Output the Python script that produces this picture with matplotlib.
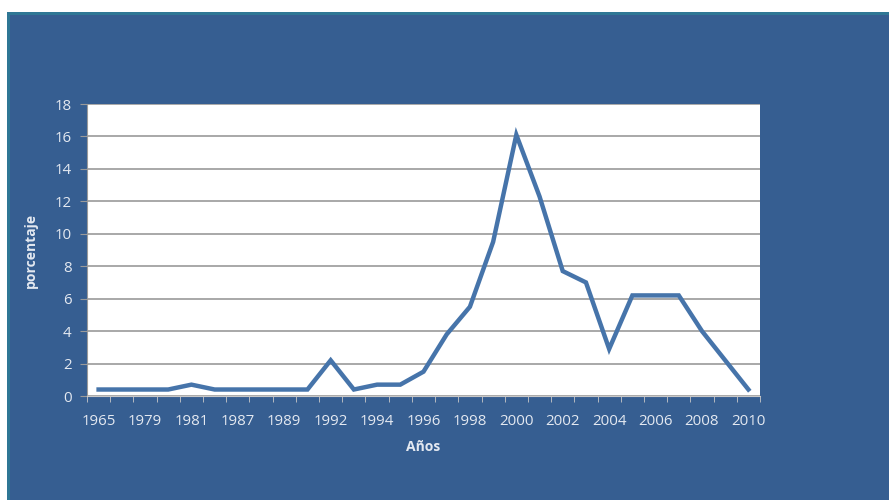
import matplotlib.pyplot as plt
from matplotlib.patches import Rectangle

# data (only every other year is labelled there)
years = ['1965', '1977', '1979', '1980', '1981', '1986', '1987', '1988', '1989', '1990',
         '1992', '1993', '1994', '1995', '1996', '1997', '1998', '1999', '2000', '2001',
         '2002', '2003', '2004', '2005', '2006', '2007', '2008', '2009', '2010']
porcentaje = [0.4, 0.4, 0.4, 0.4, 0.7, 0.4, 0.4, 0.4, 0.4, 0.4,
              2.2, 0.4, 0.7, 0.7, 1.5, 3.8, 5.5, 9.5, 16.1, 12.3,
              7.7, 7.0, 2.9, 6.2, 6.2, 6.2, 4.0, 2.2, 0.4]
y_ticks = list(range(0, 20, 2))

bg = '#365e91'
txt = '#e4e9f1'
plt.rcParams['font.family'] = ['Open Sans', 'DejaVu Sans']

fig = plt.figure(figsize=(8.89, 5), dpi=100, facecolor='white')
# blue slide background
fig.patches.append(Rectangle((7 / 889, 0), 1, 488 / 500, transform=fig.transFigure,
                             facecolor=bg, edgecolor='none', zorder=-2))
fig.patches.append(Rectangle((7 / 889, 485 / 500), 1, 3 / 500, transform=fig.transFigure,
                             facecolor='#2f7795', edgecolor='none', zorder=-1))
fig.patches.append(Rectangle((7 / 889, 0), 3 / 889, 488 / 500, transform=fig.transFigure,
                             facecolor='#2f7795', edgecolor='none', zorder=-1))

ax = fig.add_axes([87 / 889, 104 / 500, 673 / 889, 292 / 500])
ax.set_facecolor('white')
x = list(range(len(years)))
ax.plot(x, porcentaje, color='#4674aa', lw=3.2, solid_joinstyle='miter', zorder=3)

ax.set_xlim(-0.5, len(years) - 0.5)
ax.set_ylim(0, 18)
ax.set_yticks(y_ticks)
ax.grid(axis='y', color='#9a9a9a', lw=1.2)
ax.set_axisbelow(True)

ax.set_xticks(x[::2])
ax.set_xticklabels(years[::2])
ax.set_xticks([i - 0.5 for i in range(len(years) + 1)], minor=True)
ax.tick_params(axis='x', which='major', length=0, pad=13, labelsize=10.8, labelcolor=txt)
ax.tick_params(axis='x', which='minor', length=4, color='#c8c8c8', direction='out')
ax.tick_params(axis='y', length=5, color='#9a9a9a', labelsize=10.8, labelcolor=txt, pad=6)

for s in ['top', 'right']:
    ax.spines[s].set_visible(False)
ax.spines['left'].set_color('#9a9a9a')
ax.spines['bottom'].set_color('#c8c8c8')

ax.set_xlabel('Años', color=txt, fontsize=10, fontweight='bold', labelpad=8)
ax.set_ylabel('porcentaje', color=txt, fontsize=10, fontweight='bold', labelpad=12)

fig.savefig('out.png', dpi=100, facecolor=fig.get_facecolor())
